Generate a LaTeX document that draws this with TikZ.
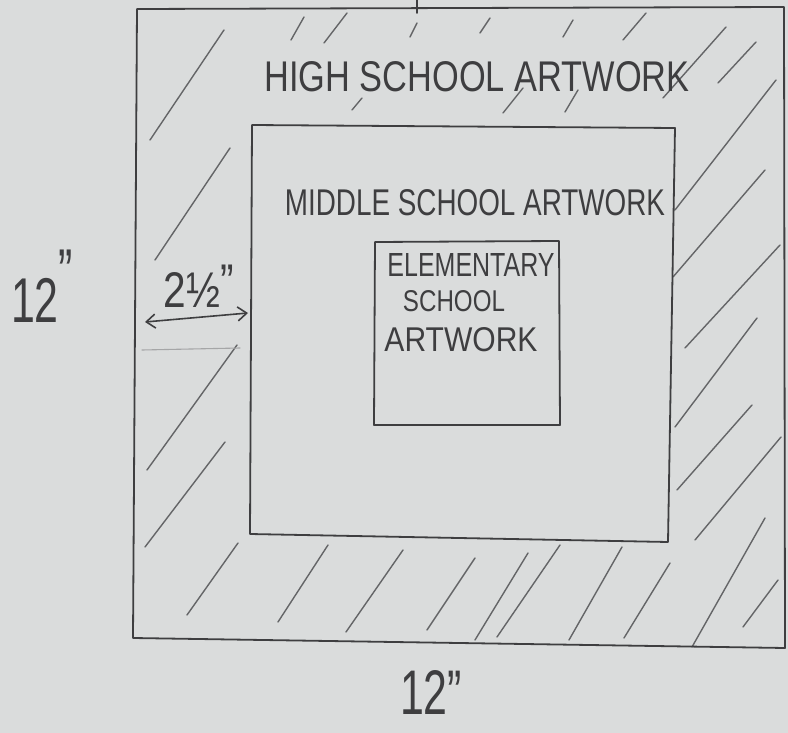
\documentclass[tikz,border=0pt]{standalone}
\usepackage{fontspec}
\usepackage{graphicx}
\setmainfont{Liberation Sans}
\usetikzlibrary{arrows.meta}
\definecolor{paper}{RGB}{218,220,220}
\definecolor{pencil}{RGB}{62,62,64}
\definecolor{hatchc}{RGB}{100,101,103}
\tikzset{
  boxline/.style={draw=pencil, line width=1.8pt, line cap=round, line join=round},
  hatch/.style={draw=hatchc, line width=1.4pt, line cap=round},
  faint/.style={draw=hatchc!45!paper, line width=1.1pt, line cap=round},
  hand/.style={text=pencil, inner sep=0pt, anchor=center},
  dimarrow/.style={draw=pencil, line width=1.6pt, {Straight Barb[length=9pt,width=14pt]}-{Straight Barb[length=9pt,width=14pt]}}
}
\begin{document}
\begin{tikzpicture}[x=1pt,y=-1pt]
\fill[paper] (0,0) rectangle (788,733);
\useasboundingbox (0,0) rectangle (788,733);

% hatching in the outer band
\foreach \a/\b/\c/\d in {
  224/30/150/140, 304/17/291/40, 347/13/324/43, 417/23/410/37, 490/18/480/33,
  573/20/563/37, 646/13/623/40, 726/27/663/98, 756/42/718/83, 776/80/675/210,
  362/98/352/110, 523/88/503/113, 578/90/565/112,
  765/170/673/277, 780/245/685/348, 757/318/675/427, 752/405/677/490,
  781/437/695/540, 765/518/692/647, 778/580/743/627,
  230/148/155/260, 237/345/147/470, 225/442/145/547, 238/543/187/615,
  328/545/278/622, 403/550/346/632, 475/558/427/630, 528/553/475/640,
  560/545/497/637, 622/547/569/640, 670/563/624/638}
  {\draw[hatch] (\a,\b) -- (\c,\d);}

% outer square
\coordinate (oTL) at (137,9);
\coordinate (oTR) at (784,7);
\coordinate (oBR) at (785,648);
\coordinate (oBL) at (133,638);
\draw[boxline] (oTL) -- (oTR) -- (oBR) -- (oBL) -- cycle;
\coordinate (tickTop) at (417,0);
\coordinate (tickBot) at (417,13);
\draw[boxline] (tickTop) -- (tickBot);

% middle square
\coordinate (mTL) at (252,125);
\coordinate (mTR) at (675,128);
\coordinate (mBR) at (668,542);
\coordinate (mBL) at (250,534);
\draw[boxline] (mTL) -- (mTR) -- (mBR) -- (mBL) -- cycle;

% inner square
\coordinate (iTL) at (375,242);
\coordinate (iTR) at (559,241);
\coordinate (iBR) at (560,425);
\coordinate (iBL) at (374,425);
\draw[boxline] (iTL) -- (iTR) -- (iBR) -- (iBL) -- cycle;

% labels
\node[hand] (hs) at (477,77) {\resizebox{425pt}{30pt}{HIGH SCHOOL ARTWORK}};
\node[hand] (ms) at (475,203) {\resizebox{380pt}{26pt}{MIDDLE SCHOOL ARTWORK}};
\node[hand] (es1) at (471,265) {\resizebox{167pt}{23pt}{ELEMENTARY}};
\node[hand] (es2) at (454,301) {\resizebox{102pt}{21pt}{SCHOOL}};
\node[hand] (es3) at (461,340) {\resizebox{153pt}{24pt}{ARTWORK}};

% dimensions
\node[hand] (leftdim) at (42,286) {\resizebox{62pt}{72pt}{12\raisebox{0.45em}{"}}};
\node[hand] (botdim) at (431,692) {\resizebox{62pt}{44pt}{12"}};
\node[hand] (banddim) at (199,286) {\resizebox{70pt}{42pt}{2½\raisebox{0.15em}{"}}};
\coordinate (arrL) at (145,322);
\coordinate (arrR) at (248,313);
\draw[dimarrow] (arrL) -- (arrR);
\coordinate (fL) at (142,350);
\coordinate (fR) at (240,348);
\draw[faint] (fL) -- (fR);
\end{tikzpicture}
\end{document}
